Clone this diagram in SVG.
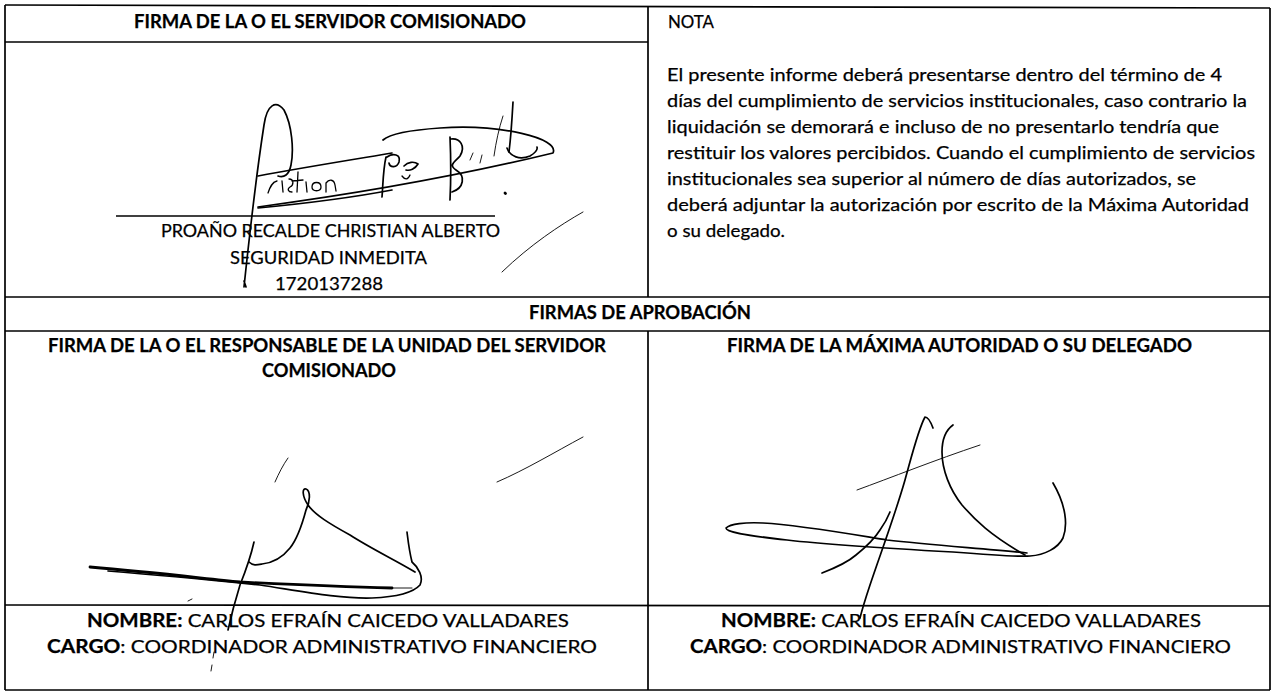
<svg xmlns="http://www.w3.org/2000/svg" width="1274" height="693" viewBox="0 0 1274 693">
<style>
.t{font-family:Lato,"Liberation Sans","DejaVu Sans",sans-serif;font-size:18px;fill:#000;stroke:#000;stroke-width:0.25}
.b{font-weight:bold}
.grid line{stroke:#000;stroke-width:1.7}
.sig path{fill:none;stroke:#000;stroke-width:1.7;stroke-linecap:round;stroke-linejoin:round}
.sig .thin{stroke-width:0.9}
.sig .mid{stroke-width:1.3}
.sig .thick{stroke-width:2.8}
</style>
<rect width="1274" height="693" fill="#fff"/>
<g id="grid" class="grid">
<line x1="5" y1="5" x2="1270" y2="8"/>
<line x1="5" y1="5" x2="5" y2="690"/>
<line x1="1270" y1="8" x2="1270" y2="690"/>
<line x1="5" y1="690" x2="1270" y2="690"/>
<line x1="5" y1="42" x2="648" y2="42"/>
<line x1="648" y1="6" x2="648" y2="297"/>
<line x1="5" y1="297" x2="1270" y2="297"/>
<line x1="5" y1="331" x2="1270" y2="331"/>
<line x1="648" y1="331" x2="648" y2="690"/>
<line x1="5" y1="605" x2="1270" y2="606"/>
<line x1="116" y1="216" x2="495" y2="216"/>
</g>
<g id="cell-servidor">
<text class="t b" x="134" y="28" textLength="392" lengthAdjust="spacingAndGlyphs">FIRMA DE LA O EL SERVIDOR COMISIONADO</text>
<text class="t" x="161" y="237" textLength="339" lengthAdjust="spacingAndGlyphs">PROAÑO RECALDE CHRISTIAN ALBERTO</text>
<text class="t" x="230" y="264" textLength="197" lengthAdjust="spacingAndGlyphs">SEGURIDAD INMEDITA</text>
<text class="t" x="275" y="290" textLength="108" lengthAdjust="spacingAndGlyphs">1720137288</text>
</g>
<g id="cell-nota">
<text class="t" x="668" y="28" textLength="46" lengthAdjust="spacingAndGlyphs">NOTA</text>
<text class="t" x="667" y="81" textLength="555" lengthAdjust="spacingAndGlyphs">El presente informe deberá presentarse dentro del término de 4</text>
<text class="t" x="667" y="107" textLength="580" lengthAdjust="spacingAndGlyphs">días del cumplimiento de servicios institucionales, caso contrario la</text>
<text class="t" x="667" y="133" textLength="552" lengthAdjust="spacingAndGlyphs">liquidación se demorará e incluso de no presentarlo tendría que</text>
<text class="t" x="667" y="159" textLength="588" lengthAdjust="spacingAndGlyphs">restituir los valores percibidos. Cuando el cumplimiento de servicios</text>
<text class="t" x="667" y="185" textLength="529" lengthAdjust="spacingAndGlyphs">institucionales sea superior al número de días autorizados, se</text>
<text class="t" x="667" y="211" textLength="582" lengthAdjust="spacingAndGlyphs">deberá adjuntar la autorización por escrito de la Máxima Autoridad</text>
<text class="t" x="667" y="237" textLength="118" lengthAdjust="spacingAndGlyphs">o su delegado.</text>
</g>
<g id="cell-aprobacion">
<text class="t b" x="529" y="319" textLength="222" lengthAdjust="spacingAndGlyphs">FIRMAS DE APROBACIÓN</text>
</g>
<g id="cell-responsable">
<text class="t b" x="48" y="352" textLength="558" lengthAdjust="spacingAndGlyphs">FIRMA DE LA O EL RESPONSABLE DE LA UNIDAD DEL SERVIDOR</text>
<text class="t b" x="262" y="377" textLength="134" lengthAdjust="spacingAndGlyphs">COMISIONADO</text>
<text class="t" x="87" y="627" textLength="482" lengthAdjust="spacingAndGlyphs"><tspan class="b">NOMBRE:</tspan> CARLOS EFRAÍN CAICEDO VALLADARES</text>
<text class="t" x="47" y="653" textLength="550" lengthAdjust="spacingAndGlyphs"><tspan class="b">CARGO</tspan>: COORDINADOR ADMINISTRATIVO FINANCIERO</text>
</g>
<g id="cell-maxima">
<text class="t b" x="727" y="352" textLength="465" lengthAdjust="spacingAndGlyphs">FIRMA DE LA MÁXIMA AUTORIDAD O SU DELEGADO</text>
<text class="t" x="721" y="627" textLength="480" lengthAdjust="spacingAndGlyphs"><tspan class="b">NOMBRE:</tspan> CARLOS EFRAÍN CAICEDO VALLADARES</text>
<text class="t" x="690" y="653" textLength="541" lengthAdjust="spacingAndGlyphs"><tspan class="b">CARGO</tspan>: COORDINADOR ADMINISTRATIVO FINANCIERO</text>
</g>
<g id="signature-servidor" class="sig">
<path d="M246,287 l-2,-6 M244,287 C250,230 257,170 264,125 C267,104 276,100 284,110 C292,125 294,150 291,165 C289,175 284,178 278,176"/>
<path d="M258,207 C340,196 450,178 553,153 C560,138 500,124 440,128 C410,130 390,134 383,140"/>
<path d="M258,176 C300,168 350,160 392,153"/>
<path d="M258,208 C300,204 350,198 392,190"/>
<path class="mid" d="M268,193 c2,-6 4,-11 9,-12 M282,181 l1,11 M289,179 c5,0 5,6 1,8 c-3,2 -2,5 2,5 M298,172 l-1,20 M292,181 l11,-1 M306,182 l1,10 M312,187 c0,-6 9,-6 9,0 c0,5 -9,5 -9,0 M326,192 l0,-9 c3,-4 8,-4 9,2 l1,6"/>
<path d="M386,157 C383,170 383,185 382,197 M387,157 C393,153 401,154 399,162 C397,168 390,168 389,163 M404,166 c4,-4 10,-5 14,-2 c-3,5 -8,7 -12,6"/>
<path class="mid" d="M402,176 c3,4 6,4 8,-1"/>
<path d="M450,137 C451,160 451,180 450,200 M451,139 C460,138 466,146 460,156 C455,162 448,165 456,170 C466,176 464,188 452,192"/>
<path class="thin" d="M470,160 l3,-7 M482,155 l-2,8"/>
<path d="M513,102 C512,120 511,136 509,152"/>
<path class="thin" d="M503,116 C499,128 496,142 494,156"/>
<path d="M507,148 C510,157 520,160 530,156 C535,153 538,150 537,147"/>
<path class="thick" d="M505,193 l0.5,0.5"/>
<path class="thin" d="M583,212 C560,225 530,245 502,272"/>
</g>
<g id="signature-responsable" class="sig">
<path class="thick" d="M90,567 C150,572 200,578 240,582 C300,585 350,587 392,588"/>
<path class="thin" d="M392,588 L412,588"/>
<path d="M108,571 C170,576 220,581 260,585 C300,591 340,599 372,598 C395,597 412,594 420,585 C424,577 418,567 412,562 C409,550 408,540 407,532"/>
<path d="M415,572 C395,560 370,548 350,535 C330,524 315,515 308,505 C302,496 302,488 306,489 C311,491 310,502 306,510 C302,525 298,538 290,548 C282,558 272,563 262,564 C257,565 253,566 249,562"/>
<path d="M254,542 C250,560 244,575 240,585 C236,598 232,612 228,630"/>
<path class="thin" d="M214,652 l-1,6 M212,665 l-1,6"/>
<path class="thin" d="M288,458 C283,465 279,473 275,482"/>
<path class="thin" d="M497,482 C525,470 555,452 583,437"/>
<path class="thin" d="M188,601 l4,-2"/>
</g>
<g id="signature-maxima" class="sig">
<path d="M933,428 C930,420 928,417 925,417 C918,430 912,455 905,480 C895,515 880,555 870,585 C865,600 862,610 860,618"/>
<path d="M822,573 C835,568 848,562 856,555 C866,547 875,538 880,530 C885,523 888,517 890,512"/>
<path d="M953,425 C946,430 942,440 942,452 C942,470 950,490 962,505 C975,520 990,535 1025,555"/>
<path d="M1027,553 C990,549 930,545 887,540 C850,534 800,525 763,523 C745,522 730,524 726,528 C726,532 742,535 787,540 C830,545 880,548 953,552 C990,555 1015,557 1030,556 C1045,555 1058,548 1063,538 C1068,525 1066,505 1053,483"/>
<path class="thin" d="M857,490 C890,478 935,460 980,445"/>
</g>
</svg>
